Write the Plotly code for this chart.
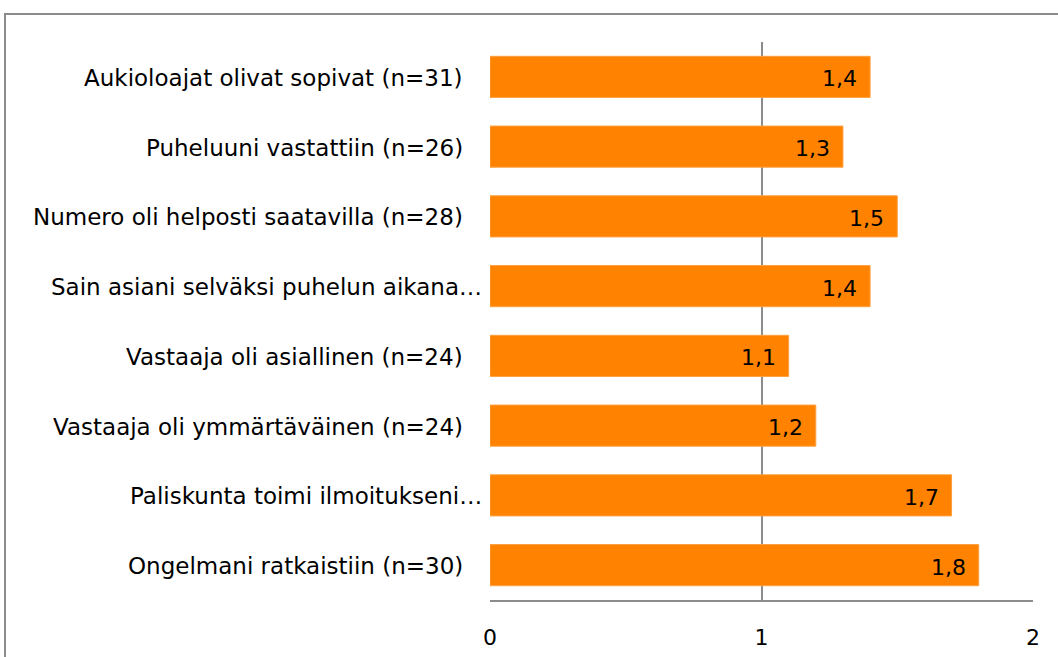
import plotly.graph_objects as go

categories = [
    "Aukioloajat olivat sopivat (n=31)",
    "Puheluuni vastattiin (n=26)",
    "Numero oli helposti saatavilla (n=28)",
    "Sain asiani selväksi puhelun aikana…",
    "Vastaaja oli asiallinen (n=24)",
    "Vastaaja oli ymmärtäväinen (n=24)",
    "Paliskunta toimi ilmoitukseni…",
    "Ongelmani ratkaistiin (n=30)",
]
values = [1.4, 1.3, 1.5, 1.4, 1.1, 1.2, 1.7, 1.8]
x_ticks = [0, 1, 2]

FONT = "DejaVu Sans, Noto Sans, sans-serif"
W, H = 1058, 657
L, R, T, B = 490, 25, 42, 57
pw, ph = W - L - R, H - T - B

fig = go.Figure()
fig.add_trace(go.Bar(
    y=categories, x=values, orientation="h",
    marker=dict(color="#FF8300", line=dict(color="#FFA040", width=1)),
    hoverinfo="skip",
))
# value labels inside bar ends
for c, v in zip(categories, values):
    fig.add_annotation(
        x=v, y=c, text=f"{v:.1f}".replace(".", ","), showarrow=False,
        xanchor="right", xshift=-11, yshift=-2,
        font=dict(family=FONT, size=22, color="#000000"),
    )
# category labels (truncated ones overflow closer to the axis, as in Excel)
for c in categories:
    fig.add_annotation(
        x=0, y=c, text=c, showarrow=False, xref="x", yref="y",
        xanchor="right", xshift=(-6 if c.endswith("…") else -25), yshift=-1,
        font=dict(family=FONT, size=23, color="#000000"),
    )

fig.update_layout(
    width=W, height=H,
    margin=dict(l=L, r=R, t=T, b=B, pad=0, autoexpand=False),
    paper_bgcolor="white", plot_bgcolor="white",
    bargap=0.41, showlegend=False,
    font=dict(family=FONT, size=22, color="#000000"),
    xaxis=dict(
        range=[0, 2], tickvals=x_ticks, ticktext=[str(t) for t in x_ticks],
        showgrid=True, gridcolor="#8c8c8c", gridwidth=1.5,
        zeroline=False, showline=True, linecolor="#8c8c8c", linewidth=1.5,
        ticks="outside", ticklen=17, tickcolor="rgba(0,0,0,0)",
        automargin=False, fixedrange=True,
    ),
    yaxis=dict(
        categoryorder="array", categoryarray=categories[::-1],
        showgrid=False, zeroline=False, showline=False,
        showticklabels=False, ticks="", automargin=False, fixedrange=True,
    ),
    shapes=[dict(
        type="rect", xref="paper", yref="paper", layer="below",
        x0=(5 - L) / pw, x1=(W + 20 - L) / pw,
        y0=-(H + 30 - (T + ph)) / ph, y1=1 + (T - 14) / ph,
        line=dict(color="#8c8c8c", width=2),
    )],
)

fig.write_html("out.html", config={"displayModeBar": False},
               post_script="document.body.style.margin='0';")
